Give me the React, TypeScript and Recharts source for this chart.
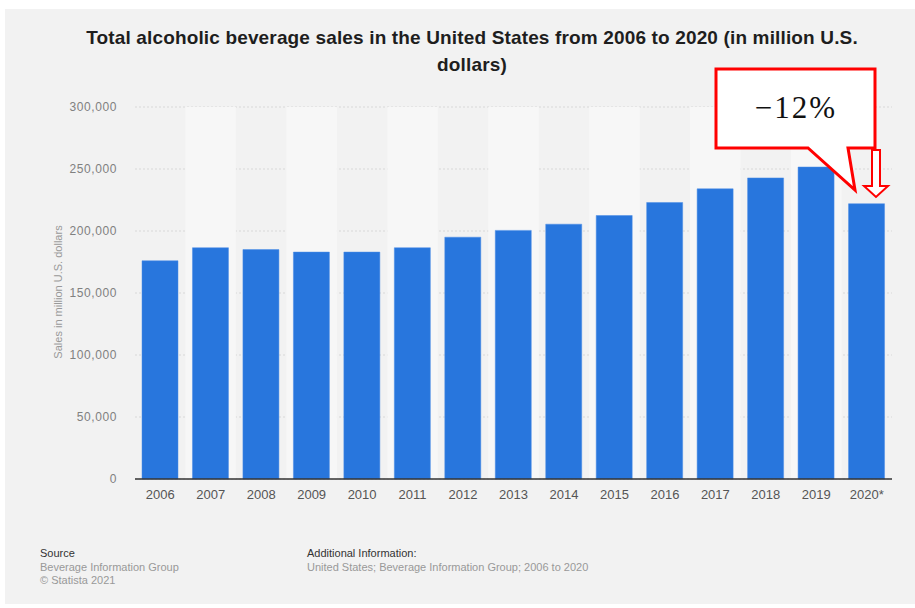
import React from 'react';
import { BarChart, Bar, XAxis, YAxis, CartesianGrid, ReferenceArea } from 'recharts';

const years = ['2006', '2007', '2008', '2009', '2010', '2011', '2012', '2013', '2014', '2015', '2016', '2017', '2018', '2019', '2020*'];
const sales = [176000, 186500, 185000, 183000, 183000, 186500, 195000, 200500, 205500, 212500, 223000, 234000, 242800, 251600, 222000];
const yTicks = [0, 50000, 100000, 150000, 200000, 250000, 300000];

const data = years.map((y, i) => ({ year: y, sales: sales[i] }));
const lightBands = years.filter((_, i) => i % 2 === 1);

const font = '"Liberation Sans", Arial, Helvetica, sans-serif';

export default function App() {
  return (
    <div style={{ position: 'absolute', left: 0, top: 0, width: 915, height: 608, background: '#fff', fontFamily: font, overflow: 'hidden' }}>
      <div style={{ position: 'absolute', left: 5, top: 9, width: 910, height: 595, background: '#f2f2f2' }} />
      <div style={{ position: 'absolute', left: 22, top: 24, width: 900, textAlign: 'center', fontSize: 19, fontWeight: 'bold', lineHeight: '27px', color: '#1e1e1e', letterSpacing: 0.15 }}>
        Total alcoholic beverage sales in the United States from 2006 to 2020 (in million U.S.
        <br />
        dollars)
      </div>
      <div style={{ position: 'absolute', left: 0, top: 0 }}>
        <BarChart width={915} height={608} data={data} margin={{ top: 107, right: 23, bottom: 99, left: 75 }}>
          {lightBands.map((b) => (
            <ReferenceArea key={b} x1={b} x2={b} fill="#f7f7f7" fillOpacity={1} stroke="none" ifOverflow="visible" />
          ))}
          <CartesianGrid vertical={false} stroke="#d8d8d8" strokeDasharray="2 2" />
          <XAxis
            dataKey="year"
            height={30}
            tickLine={false}
            tickSize={0}
            tickMargin={11}
            axisLine={{ stroke: '#333', strokeWidth: 1.5 }}
            tick={{ fill: '#555', fontSize: 13, fontFamily: font }}
            interval={0}
          />
          <YAxis
            width={60}
            domain={[0, 300000]}
            ticks={yTicks}
            tickLine={false}
            axisLine={false}
            tickSize={0}
            tickMargin={18}
            tick={{ fill: '#808080', fontSize: 12, fontFamily: font, letterSpacing: 0.6 }}
            tickFormatter={(v: number) => v.toLocaleString('en-US')}
          />
          <Bar dataKey="sales" fill="#2876dd" stroke="#4a8de6" strokeWidth={0.5} barSize={36} isAnimationActive={false} />
        </BarChart>
      </div>
      <svg width={915} height={608} style={{ position: 'absolute', left: 0, top: 0, pointerEvents: 'none' }}>
        <text x={58} y={292} transform="rotate(-90 58 292)" textAnchor="middle" dominantBaseline="central" fontSize={11} fill="#999" fontFamily={font}>
          Sales in million U.S. dollars
        </text>
        <path d="M716,69 L875,69 L875,148 L848,148 L855,190 L808,148 L716,148 Z" fill="#fff" stroke="#ff0000" strokeWidth={3} strokeLinejoin="miter" />
        <text x={796} y={118} textAnchor="middle" fontSize={31} fontFamily='"Liberation Serif", "DejaVu Serif", serif' fill="#111" letterSpacing={2}>
          −12%
        </text>
        <path d="M872,150 L880,150 L880,186 L888,186 L876,197 L864,186 L872,186 Z" fill="#fff" stroke="#ff0000" strokeWidth={2} />
      </svg>
      <div style={{ position: 'absolute', left: 40, top: 547, fontSize: 11, lineHeight: '13.5px', color: '#999' }}>
        <div style={{ color: '#333' }}>Source</div>
        <div>Beverage Information Group</div>
        <div>© Statista 2021</div>
      </div>
      <div style={{ position: 'absolute', left: 307, top: 547, fontSize: 11, lineHeight: '13.5px', color: '#999' }}>
        <div style={{ color: '#333' }}>Additional Information:</div>
        <div>United States; Beverage Information Group; 2006 to 2020</div>
      </div>
    </div>
  );
}
